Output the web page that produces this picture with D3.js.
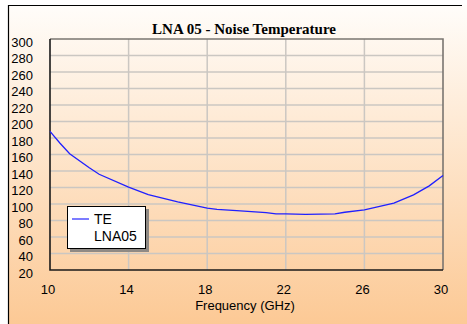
<!DOCTYPE html>
<html>
<head>
<meta charset="utf-8">
<script src="https://cdn.jsdelivr.net/npm/d3@7"></script>
<style>
  body { margin: 0; background: #fff; }
  text { font-family: Arial, "Liberation Sans", sans-serif; }
</style>
</head>
<body>
<div class="noise-chart"></div>
<script>
// data
const freqs = [10, 10.5, 11, 12, 12.5, 14, 15, 16.5, 18, 18.5, 19.5, 21, 21.5, 22, 23, 24.5, 25, 26, 27.5, 28.5, 29.3, 30];
const teValues = [188, 174, 161, 144, 136, 120.5, 111.5, 102.5, 95, 93.5, 92, 89.5, 88, 88, 87.5, 88, 90, 93, 101, 111, 122, 134.5];
const xTicks = [10, 14, 18, 22, 26, 30];
const yTicks = [20, 40, 60, 80, 100, 120, 140, 160, 180, 200, 220, 240, 260, 280, 300];
const seriesName = ['TE', 'LNA05'];

const width = 467, height = 324;
const plot = { left: 50, top: 39, right: 443, bottom: 270 };

const svg = d3.select('.noise-chart')
  .append('svg')
    .attr('width', width)
    .attr('height', height);

// background gradient
const defs = svg.append('defs');
const grad = defs.append('linearGradient')
  .attr('id', 'bg')
  .attr('x1', 0).attr('y1', 0).attr('x2', 0).attr('y2', 1);
grad.append('stop').attr('offset', '0%').attr('stop-color', '#fffdfa');
grad.append('stop').attr('offset', '100%').attr('stop-color', '#fcc995');

svg.append('rect')
  .attr('x', 8).attr('y', 5)
  .attr('width', width - 8).attr('height', height - 5)
  .attr('fill', 'url(#bg)');

// frame (left + top)
svg.append('path')
  .attr('d', `M8.5,${height} V5.5 H462`)
  .attr('fill', 'none')
  .attr('stroke', '#000')
  .attr('stroke-width', 1.2);

const x = d3.scaleLinear().domain([10, 30]).range([plot.left, plot.right]);
const y = d3.scaleLinear().domain([20, 300]).range([plot.bottom, plot.top]);

// grid
const grid = svg.append('g').attr('class', 'grid');
grid.selectAll('line.h')
  .data(yTicks.slice(1, -1))
  .enter().append('line')
    .attr('x1', plot.left).attr('x2', plot.right)
    .attr('y1', d => y(d)).attr('y2', d => y(d))
    .attr('stroke', '#cbc7c2')
    .attr('stroke-width', 1.5);
grid.selectAll('line.v')
  .data(xTicks.slice(1, -1))
  .enter().append('line')
    .attr('y1', plot.top).attr('y2', plot.bottom)
    .attr('x1', d => x(d)).attr('x2', d => x(d))
    .attr('stroke', '#cbc7c2')
    .attr('stroke-width', 1.5);

// plot border: top/right gray, left/bottom dark
svg.append('path')
  .attr('d', `M${plot.left},${plot.top} H${plot.right} V${plot.bottom}`)
  .attr('fill', 'none')
  .attr('stroke', '#7a7570')
  .attr('stroke-width', 1.6);
svg.append('path')
  .attr('d', `M${plot.left},${plot.top} V${plot.bottom} H${plot.right}`)
  .attr('fill', 'none')
  .attr('stroke', '#1a1a1a')
  .attr('stroke-width', 1.6);

// axes labels
const yAxis = d3.axisLeft(y).tickValues(yTicks).tickSize(0).tickPadding(17);
svg.append('g')
  .attr('transform', `translate(${plot.left},0)`)
  .call(yAxis)
  .call(g => g.select('.domain').remove())
  .call(g => g.selectAll('text')
    .attr('font-size', 13)
    .attr('font-family', 'Arial, "Liberation Sans", sans-serif')
    .attr('fill', '#000')
    .attr('dy', '0.55em'));

const xAxis = d3.axisBottom(x).tickValues(xTicks).tickSize(0).tickPadding(15);
svg.append('g')
  .attr('transform', `translate(-2.5,${plot.bottom})`)
  .call(xAxis)
  .call(g => g.select('.domain').remove())
  .call(g => g.selectAll('text')
    .attr('font-size', 13)
    .attr('font-family', 'Arial, "Liberation Sans", sans-serif')
    .attr('fill', '#000'));

// titles
svg.append('text')
  .attr('x', 244).attr('y', 34)
  .attr('text-anchor', 'middle')
  .style('font-family', '"Liberation Serif", "Times New Roman", serif')
  .style('font-weight', 'bold')
  .style('font-size', '15px')
  .text('LNA 05 - Noise Temperature');

svg.append('text')
  .attr('x', 245).attr('y', 310)
  .attr('text-anchor', 'middle')
  .style('font-size', '13px')
  .text('Frequency (GHz)');

// the curve
const line = d3.line()
  .x((d, i) => x(freqs[i]))
  .y(d => y(d));

svg.append('path')
  .datum(teValues)
  .attr('d', line)
  .attr('fill', 'none')
  .attr('stroke', '#2020ff')
  .attr('stroke-width', 1.3);

// legend
const lg = svg.append('g').attr('transform', 'translate(67,206)');
lg.append('rect')
  .attr('x', 3).attr('y', 3)
  .attr('width', 79).attr('height', 43)
  .attr('fill', '#8f8a85');
lg.append('rect')
  .attr('x', 0.5).attr('y', 0.5)
  .attr('width', 78).attr('height', 42)
  .attr('fill', '#fff')
  .attr('stroke', '#000')
  .attr('stroke-width', 1);
lg.append('line')
  .attr('x1', 5).attr('x2', 22)
  .attr('y1', 13).attr('y2', 13)
  .attr('stroke', '#5050ff')
  .attr('stroke-width', 1.5);
lg.selectAll('text.name')
  .data(seriesName)
  .enter().append('text')
    .attr('x', 27)
    .attr('y', (d, i) => 18 + i * 17)
    .style('font-size', '14px')
    .text(d => d);
</script>
</body>
</html>
